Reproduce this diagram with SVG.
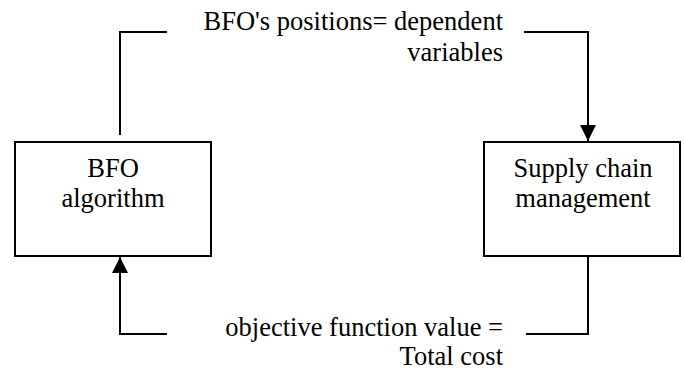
<svg xmlns="http://www.w3.org/2000/svg" width="684" height="372" viewBox="0 0 684 372">
<style>
.box{fill:#fff;stroke:#000;stroke-width:2}
.ln{fill:none;stroke:#000;stroke-width:2}
text{font-family:"Liberation Serif","Times New Roman",serif;font-size:26.5px;fill:#000}
.c{text-anchor:middle}
.r{text-anchor:end}
</style>
<defs>
<marker id="arr" markerUnits="userSpaceOnUse" markerWidth="16" markerHeight="16" refX="15" refY="7.5" orient="auto" viewBox="0 0 15 15">
<path d="M0,0 L15,7.5 L0,15 z" fill="#000"/>
</marker>
</defs>
<rect width="684" height="372" fill="#fff"/>
<g id="bfo">
<rect class="box" x="15" y="142" width="196" height="114"/>
<text class="c" x="113" y="177">BFO</text>
<text class="c" x="113" y="207">algorithm</text>
</g>
<g id="scm">
<rect class="box" x="484" y="142" width="196" height="114"/>
<text class="c" x="583" y="177">Supply chain</text>
<text class="c" x="583" y="207">management</text>
</g>
<g id="connectors">
<path class="ln" d="M120,135 V32 H167"/>
<path class="ln" d="M524,32 H588 V141" marker-end="url(#arr)"/>
<path class="ln" d="M588,256 V334 H526"/>
<path class="ln" d="M167,334 H120 V257" marker-end="url(#arr)"/>
</g>
<g id="labels">
<text class="r" x="503" y="30">BFO's positions= dependent</text>
<text class="r" x="503" y="61">variables</text>
<text class="r" x="503" y="336">objective function value =</text>
<text class="r" x="503" y="365">Total cost</text>
</g>
</svg>
